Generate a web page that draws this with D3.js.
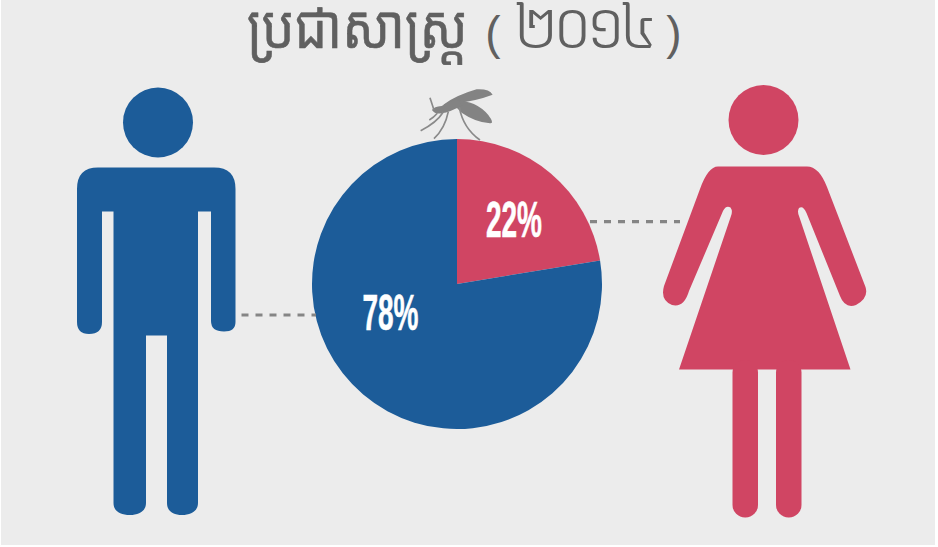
<!DOCTYPE html>
<html>
<head>
<meta charset="utf-8">
<script src="https://cdn.jsdelivr.net/npm/d3@7"></script>
<style>
    html, body { margin: 0; padding: 0; background: #fff; overflow: hidden; }
    svg { display: block; }
</style>
</head>
<body>
<div id="chart"></div>
<script>
// values
const titleWord = "ប្រជាសាស្រ្ត";
const titleYear = "២០១៤";
const categories = ["female", "male"];
const shares = [22.4, 77.6];   // slice edge as drawn, labels are rounded
const shareLabels = ["22%", "78%"];
const colours = ["#d04563", "#1c5c99"];

const width = 938, height = 547;
const grey = "#606060";
const khmerFont = "'Noto Sans Khmer', 'Noto Sans', 'DejaVu Sans', sans-serif";

const svg = d3.select("#chart").append("svg")
    .attr("width", width)
    .attr("height", height);

svg.append("rect")
    .attr("x", 1).attr("y", 0)
    .attr("width", 934).attr("height", 545)
    .attr("fill", "#ececec");

// title is set in three runs: the word, the brackets and the thin year
svg.append("text")
    .attr("transform", "translate(247,48) scale(0.86,1)")
    .attr("font-family", khmerFont)
    .attr("font-size", 60)
    .attr("fill", grey)
    .attr("stroke", grey)
    .attr("stroke-width", 0.6)
    .text(titleWord);

svg.append("text")
    .attr("x", 583).attr("y", 48)
    .attr("text-anchor", "middle")
    .attr("font-family", khmerFont)
    .attr("font-size", 64)
    .attr("font-weight", 300)
    .attr("letter-spacing", -6)
    .attr("fill", grey)
    .text(titleYear);

[["(", 493], [")", 674]].forEach(b => {
    svg.append("text")
        .attr("x", b[1]).attr("y", 49)
        .attr("text-anchor", "middle")
        .attr("font-family", "'Liberation Sans', sans-serif")
        .attr("font-size", 46)
        .attr("fill", grey)
        .text(b[0]);
});

// pie
const pieCentre = [457, 284], pieRadius = 145;
const colour = d3.scaleOrdinal().domain(categories).range(colours);
const pie = d3.pie().sort(null).value(d => d.value);
const arc = d3.arc().innerRadius(0).outerRadius(pieRadius);
const slices = pie(categories.map((c, i) => ({name: c, value: shares[i], label: shareLabels[i]})));

const pieGroup = svg.append("g")
    .attr("transform", "translate(" + pieCentre + ")");

pieGroup.selectAll("path")
    .data(slices)
    .join("path")
    .attr("d", arc)
    .attr("fill", d => colour(d.data.name));

// labels sit by hand, they are not on the arc centroid
const labelAt = {female: [514, 237], male: [390.5, 330]};
svg.selectAll(".share-label")
    .data(slices)
    .join("text")
    .attr("class", "share-label")
    .attr("transform", d => "translate(" + labelAt[d.data.name] + ") scale(0.56,1)")
    .attr("text-anchor", "middle")
    .attr("font-family", "'Liberation Sans', sans-serif")
    .attr("font-weight", "bold")
    .attr("font-size", 50)
    .attr("fill", "#fff")
    .attr("stroke", "#fff")
    .attr("stroke-width", 0.6)
    .text(d => d.data.label);

// dashed connectors
[[241.5, 316, 315], [590, 680, 221.7]].forEach(c => {
    svg.append("line")
        .attr("x1", c[0]).attr("x2", c[1])
        .attr("y1", c[2]).attr("y2", c[2])
        .attr("stroke", "#858585")
        .attr("stroke-width", 3.2)
        .attr("stroke-dasharray", "7,7");
});

// man
const man = svg.append("g").attr("fill", colour("male"));
man.append("circle").attr("cx", 158).attr("cy", 122.5).attr("r", 35);
man.append("path").attr("d",
    "M98 167.5 H214 Q235.5 167.5 235.5 189 V322 Q235.5 331.5 224 331.5 Q211 331.5 211 321 V211.5 H198 " +
    "V503 C198 511 191 515 182 515 C173 515 167 511 167 503 V335.5 H146 " +
    "V503 C146 511 139 515 130 515 C120 515 113.5 511 113.5 503 " +
    "V211.5 H102 V322 Q102 334 89 334 Q77 334 77 322 V189 Q77 167.5 98 167.5 Z");

// woman
const woman = svg.append("g").attr("fill", colour("female"));
woman.append("circle").attr("cx", 763.5).attr("cy", 120).attr("r", 35);
woman.append("path").attr("d",
    "M718 166.5 H807 Q819 166.5 827 187 L865.5 287 Q869 298 856 305 Q845 309 840 296 " +
    "L806.5 213 Q803 205 799 208 Q797 211 799 216 L850.5 369.5 H679 L731 216 Q733 211 730.5 207.5 " +
    "Q726 205 723 211 L689 291 Q684 308 672 305 Q660 300 664 286 L700 189 Q708 166.5 718 166.5 Z");
woman.selectAll(".leg")
    .data([[732.5, 758], [776, 801.5]])
    .join("rect")
    .attr("class", "leg")
    .attr("x", d => d[0]).attr("y", 360)
    .attr("width", d => d[1] - d[0]).attr("height", 157.5)
    .attr("rx", 12.5);

// mosquito on top of the pie
const bug = svg.append("g")
    .attr("transform", "translate(230,0) scale(0.3333)")
    .attr("fill", "#838383");
bug.selectAll(".bug-part")
    .data([
        "M640 314 Q680 285 740 268 Q778 266 788 284 Q740 302 680 310 Q655 320 640 314 Z",
        "M665 302 Q735 298 775 345 Q795 372 780 370 Q735 366 695 338 Q675 320 665 302 Z",
        "M606 330 Q612 320 635 318 Q660 303 680 298 L697 316 Q660 337 635 340 Q615 344 606 330 Z"
    ])
    .join("path")
    .attr("class", "bug-part")
    .attr("d", d => d);
bug.append("g")
    .attr("fill", "none").attr("stroke", "#8a8a8a").attr("stroke-width", 5)
    .selectAll("path")
    .data([
        "M600 293 L612 330",
        "M622 340 Q612 352 598 360",
        "M640 336 Q620 368 572 392",
        "M655 335 Q645 385 612 416",
        "M688 322 Q700 385 750 420"
    ])
    .join("path")
    .attr("d", d => d);
</script>
</body>
</html>
